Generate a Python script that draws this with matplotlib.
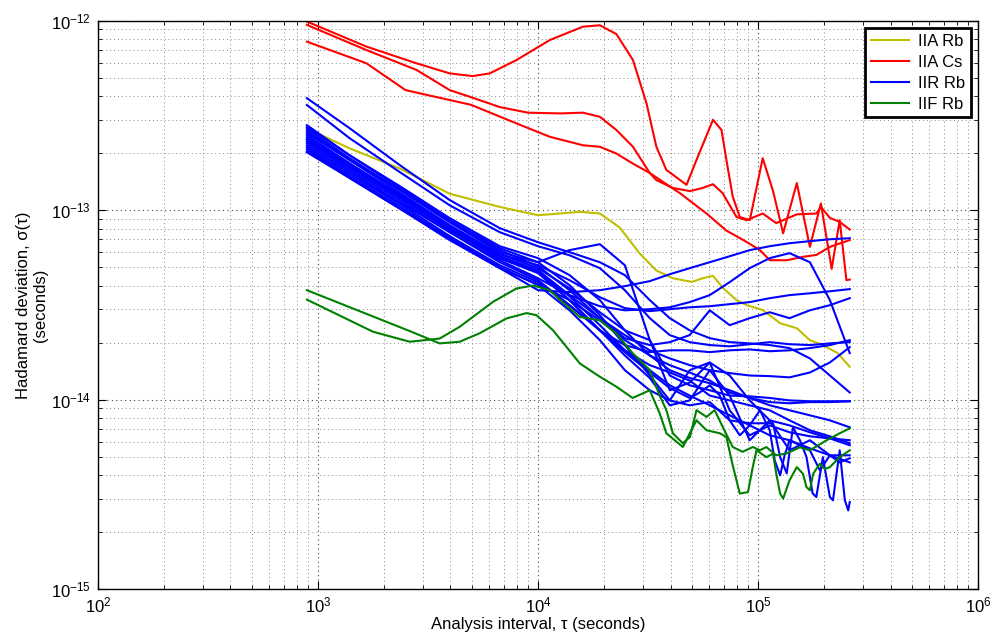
import numpy as np
import matplotlib
matplotlib.use('Agg')
import matplotlib.pyplot as plt
from matplotlib.ticker import NullFormatter

plt.rcParams['font.family'] = ['Liberation Sans', 'DejaVu Sans']
plt.rcParams['mathtext.default'] = 'regular'

#%% DATA (tau in seconds, sigma in units of 1e-14 s)
unit = 1e-14

x_ticks = [1e2, 1e3, 1e4, 1e5, 1e6]
y_ticks = [1e-15, 1e-14, 1e-13, 1e-12]

# IIA Rb (yellow)
tau_iia_rb = [890, 1390, 2350, 3970, 6700, 1.0e4, 1.55e4, 1.91e4, 2.35e4, 2.9e4, 3.45e4,
              4.1e4, 5.0e4, 5.6e4, 6.24e4, 6.9e4, 7.98e4, 8.9e4, 1.05e5, 1.26e5, 1.5e5,
              1.72e5, 1.95e5, 2.3e5, 2.61e5]
sig_iia_rb = [27.0, 21.2, 16.6, 12.2, 10.4, 9.4, 9.8, 9.6, 8.1, 5.9, 4.8,
              4.37, 4.18, 4.37, 4.5, 3.9, 3.35, 3.15, 2.97, 2.53, 2.38,
              2.06, 1.95, 1.76, 1.49]

# IIA Cs (red)
tau_cs1 = [890, 1660, 2800, 3970, 5050, 6030, 7980, 1.13e4, 1.6e4, 1.91e4, 2.27e4, 2.7e4,
           3.11e4, 3.45e4, 3.83e4, 4.73e4, 5.25e4, 6.24e4, 6.82e4, 7.18e4, 7.67e4, 8.26e4,
           9.17e4, 1.05e5, 1.17e5, 1.3e5, 1.5e5, 1.72e5, 1.93e5, 2.16e5, 2.35e5, 2.52e5, 2.61e5]
sig_cs1 = [99, 73, 59.6, 52.7, 51, 52.7, 62, 79, 93, 94.6, 85, 62,
           36.7, 21.6, 16.3, 13.6, 18.4, 30, 26.5, 18.4, 11.8, 9.2,
           8.85, 18.8, 12.6, 7.55, 13.9, 6.4, 10.85, 4.9, 8.85, 4.27, 4.3]
tau_cs2 = [890, 1660, 2800, 3970, 4950, 6700, 9000, 1.27e4, 1.6e4, 1.91e4, 2.27e4, 2.7e4,
           3.22e4, 3.45e4, 4.1e4, 4.9e4, 5.6e4, 6.24e4, 6.9e4, 7.98e4, 8.86e4, 1.05e5,
           1.21e5, 1.5e5, 1.84e5, 1.93e5, 2.12e5, 2.35e5, 2.61e5]
sig_cs2 = [95, 70, 55, 43, 39.5, 35, 32.7, 32.4, 32.7, 31.1, 26.5, 21.6,
           15.7, 14.4, 13.1, 12.6, 13.1, 13.7, 12.3, 9.2, 8.85, 9.6,
           8.54, 9.5, 9.6, 10.4, 9.1, 8.67, 7.9]
tau_cs3 = [890, 1660, 2500, 4950, 7980, 1.13e4, 1.6e4, 1.91e4, 2.27e4, 2.7e4, 3.22e4,
           4.41e4, 5.83e4, 7.18e4, 8.86e4, 1.02e5, 1.13e5, 1.35e5, 1.6e5, 1.84e5, 2.12e5, 2.61e5]
sig_cs3 = [77.5, 59.6, 43, 36, 28.7, 24.4, 22, 21.6, 19.9, 17.6, 15.7,
           12.3, 9.6, 7.8, 6.8, 6.15, 5.44, 5.44, 5.67, 5.8, 6.4, 6.95]

# IIF Rb (green)
tau_iif1 = [890, 2610, 3570, 4400, 5430, 7180, 8850, 9840, 1.17e4, 1.55e4, 1.91e4, 2.27e4,
            2.69e4, 3.22e4, 3.57e4, 3.83e4, 4.55e4, 5.25e4, 5.83e4, 6.7e4, 7.18e4, 7.67e4,
            8.26e4, 9.0e4, 9.46e4, 9.84e4, 1.09e5, 1.17e5, 1.21e5, 1.26e5, 1.3e5, 1.39e5,
            1.5e5, 1.6e5, 1.66e5, 1.72e5, 1.78e5, 1.91e5, 2.01e5, 2.12e5, 2.35e5, 2.61e5]
sig_iif1 = [3.78, 2.3, 1.98, 2.02, 2.24, 2.68, 2.86, 2.79, 2.32, 1.55, 1.32, 1.17,
            1.02, 1.12, 0.847, 0.664, 0.562, 0.778, 0.689, 0.664, 0.634, 0.45,
            0.319, 0.325, 0.44, 0.54, 0.497, 0.518, 0.406, 0.319, 0.30, 0.375,
            0.44, 0.406, 0.345, 0.332, 0.406, 0.459, 0.43, 0.44, 0.497, 0.54]
tau_iif2 = [890, 1780, 2610, 3570, 4400, 6240, 7980, 9500, 1.13e4, 1.26e4, 1.55e4, 1.91e4,
            2.27e4, 2.69e4, 3.22e4, 3.57e4, 3.83e4, 4.1e4, 4.55e4, 4.9e4, 5.25e4, 5.83e4,
            6.35e4, 6.91e4, 7.67e4, 8.5e4, 9.46e4, 1.02e5, 1.09e5, 1.21e5, 1.35e5, 1.55e5,
            1.72e5, 2.05e5, 2.35e5, 2.61e5]
sig_iif2 = [3.37, 2.28, 2.02, 2.1, 2.42, 3.28, 3.86, 4.0, 3.78, 3.35, 2.73, 2.62,
            2.23, 1.76, 1.43, 1.05, 0.88, 0.664, 0.588, 0.634, 0.88, 0.81,
            0.88, 0.717, 0.562, 0.53, 0.562, 0.54, 0.562, 0.508, 0.52, 0.56,
            0.54, 0.61, 0.664, 0.705]

# IIR Rb (blue) - most share one tau grid
tau_iir = [890, 1390, 2350, 3970, 6700, 1.0e4, 1.39e4, 1.91e4, 2.48e4, 3.22e4, 3.97e4,
           4.89e4, 6.03e4, 7.43e4, 9.16e4, 1.13e5, 1.39e5, 1.72e5, 2.12e5, 2.61e5]
sig_iir = [
    [39.0, 27.1, 17.3, 11.3, 8.03, 6.77, 6.0, 5.31, 4.54, 3.35, 2.69, 2.32, 2.11, 2.01, 1.98, 1.94, 1.87, 1.65, 1.34, 1.09],
    [35.9, 24.0, 15.9, 10.6, 7.65, 6.45, 5.78, 4.94, 3.78, 2.69, 2.19, 2.01, 1.94, 1.91, 1.96, 2.01, 1.96, 1.94, 1.98, 2.01],
    [25.5, 18.4, 12.8, 8.64, 6.0, 5.31, 6.15, 6.61, 5.12, 2.06, 1.34, 1.19, 1.12, 1.05, 1.04, 1.02, 0.99, 0.98, 0.98, 0.98],
    [20.2, 14.8, 10.2, 7.11, 4.94, 3.78, 3.69, 3.78, 3.97, 4.22, 4.59, 4.94, 5.31, 5.71, 6.15, 6.45, 6.69, 6.86, 7.02, 7.11],
    [22.0, 15.9, 11.0, 7.65, 5.44, 4.37, 3.56, 3.11, 2.96, 3.0, 3.07, 3.27, 3.56, 4.17, 4.94, 5.58, 5.93, 5.31, 3.35, 1.76],
    [24.3, 17.5, 12.1, 8.23, 5.86, 5.12, 4.27, 3.47, 3.04, 2.93, 3.0, 3.07, 3.11, 3.19, 3.27, 3.43, 3.56, 3.64, 3.73, 3.83],
    [26.8, 18.8, 12.8, 8.64, 6.15, 5.06, 3.78, 2.69, 2.11, 1.94, 2.01, 2.19, 2.96, 2.47, 2.69, 2.89, 2.69, 2.96, 3.15, 3.43],
    [23.7, 17.1, 11.9, 8.03, 5.71, 4.82, 3.56, 2.69, 2.19, 1.82, 1.65, 1.52, 1.43, 1.38, 1.34, 1.33, 1.31, 1.39, 1.57, 1.89],
    [23.1, 16.7, 11.6, 7.84, 5.58, 4.70, 3.35, 2.32, 1.94, 1.78, 1.82, 1.82, 1.78, 1.82, 1.84, 1.80, 1.82, 1.87, 1.94, 2.06],
    [27.4, 19.5, 13.4, 9.07, 6.45, 5.58, 4.54, 3.35, 2.32, 1.71, 1.43, 1.30, 1.22, 1.12, 1.02, 0.933, 0.878, 0.826, 0.777, 0.714],
    [26.1, 18.4, 12.4, 8.33, 5.86, 4.94, 3.87, 2.89, 2.32, 2.06, 1.12, 1.23, 1.57, 0.878, 0.648, 0.731, 0.672, 0.64, 0.624, 0.61],
    [24.9, 17.7, 12.1, 8.23, 5.71, 4.70, 3.51, 2.47, 1.82, 1.52, 1.39, 1.26, 1.05, 0.99, 0.933, 0.878, 0.777, 0.689, 0.64, 0.588],
    [22.6, 16.3, 11.3, 7.65, 5.31, 4.27, 3.15, 2.32, 1.71, 1.30, 0.933, 0.99, 1.43, 1.05, 0.61, 0.777, 0.54, 0.61, 0.508, 0.508],
    [21.5, 15.5, 10.8, 7.29, 5.12, 4.17, 3.15, 2.32, 1.82, 1.43, 1.19, 1.05, 0.933, 0.826, 0.731, 0.648, 0.61, 0.553, 0.508, 0.466],
    [20.5, 14.8, 10.2, 6.94, 4.94, 4.06, 3.35, 2.62, 2.06, 1.71, 1.52, 1.39, 1.26, 1.09, 1.02, 0.97, 0.956, 0.97, 0.97, 0.98],
    [28.1, 19.5, 13.1, 8.85, 6.30, 5.31, 4.02, 2.79, 1.94, 1.34, 0.99, 1.43, 1.57, 1.34, 0.99, 0.777, 0.731, 0.672, 0.624, 0.574],
]
# two oscillating IIR Rb curves with their own tau points
tau_iir_a = [890, 1390, 2350, 3970, 6700, 1.0e4, 1.39e4, 1.91e4, 2.48e4, 3.22e4, 3.97e4,
             4.89e4, 6.03e4, 7.43e4, 9.16e4, 1.17e5, 1.26e5, 1.35e5, 1.44e5, 1.55e5, 1.66e5,
             1.77e5, 1.84e5, 1.97e5, 2.12e5, 2.19e5, 2.35e5, 2.48e5, 2.57e5, 2.61e5]
sig_iir_a = [21.0, 15.1, 10.5, 7.11, 5.0, 4.02, 2.96, 2.06, 1.43, 1.12, 0.99,
             0.933, 0.97, 0.777, 0.75, 0.75, 0.497, 0.408, 0.714, 0.61, 0.497,
             0.32, 0.306, 0.497, 0.306, 0.294, 0.54, 0.294, 0.26, 0.288]
tau_iir_b = [890, 1390, 2350, 3970, 6700, 1.0e4, 1.39e4, 1.91e4, 2.48e4, 3.22e4, 3.97e4,
             4.89e4, 5.43e4, 6.03e4, 6.7e4, 7.43e4, 8.26e4, 9.16e4, 1.02e5, 1.13e5, 1.19e5,
             1.26e5, 1.32e5, 1.39e5, 1.55e5, 1.72e5, 1.91e5, 2.12e5, 2.35e5, 2.61e5]
sig_iir_b = [23.7, 17.1, 11.7, 7.94, 5.58, 4.65, 3.35, 2.32, 1.78, 1.39, 1.15,
             1.02, 1.09, 1.19, 1.05, 0.777, 0.648, 0.731, 0.878, 0.689, 0.478,
             0.398, 0.508, 0.61, 0.574, 0.54, 0.423, 0.508, 0.466, 0.49]

c_yel = '#BFBF00'
c_red = '#FF0000'
c_blu = '#0000FF'
c_grn = '#008000'
lw = 1.5

#%% PLOT
fig = plt.figure(figsize=(9.95, 6.39), dpi=100)
ax = fig.add_axes([0.0985, 0.0782, 0.8845, 0.8894])

ax.plot(tau_iia_rb, np.array(sig_iia_rb) * unit, color=c_yel, lw=lw, label='IIA Rb')
ax.plot(tau_cs1, np.array(sig_cs1) * unit, color=c_red, lw=lw, label='IIA Cs')
ax.plot(tau_cs2, np.array(sig_cs2) * unit, color=c_red, lw=lw)
ax.plot(tau_cs3, np.array(sig_cs3) * unit, color=c_red, lw=lw)

for i, s in enumerate(sig_iir):
    ax.plot(tau_iir, np.array(s) * unit, color=c_blu, lw=lw, label='IIR Rb' if i == 0 else None)
ax.plot(tau_iir_a, np.array(sig_iir_a) * unit, color=c_blu, lw=lw)
ax.plot(tau_iir_b, np.array(sig_iir_b) * unit, color=c_blu, lw=lw)

ax.plot(tau_iif1, np.array(sig_iif1) * unit, color=c_grn, lw=lw, label='IIF Rb')
ax.plot(tau_iif2, np.array(sig_iif2) * unit, color=c_grn, lw=lw)

ax.set_xscale('log')
ax.set_yscale('log')
ax.set_xticks(x_ticks)
ax.set_yticks(y_ticks)
ax.set_xlim(1e2, 1e6)
ax.set_ylim(1e-15, 1e-12)
ax.xaxis.set_minor_formatter(NullFormatter())
ax.yaxis.set_minor_formatter(NullFormatter())

ax.grid(True, which='major', linestyle=(0, (1, 3)), color='#444444', linewidth=0.8)
ax.grid(True, which='minor', linestyle=(0, (1, 3)), color='#8a8a8a', linewidth=0.7)
ax.set_axisbelow(True)
ax.tick_params(which='both', direction='in', top=True, right=True, labelsize=12)
ax.tick_params(which='major', length=6, pad=5)
ax.tick_params(which='minor', length=3)
for sp in ax.spines.values():
    sp.set_linewidth(1.0)

ax.set_xlabel('Analysis interval, τ (seconds)', fontsize=12, labelpad=1)
ax.set_ylabel('Hadamard deviation, σ(τ)\n(seconds)', fontsize=12, labelpad=2)

leg = ax.legend(loc='upper right', fontsize=12, handlelength=2.3, borderpad=0.35,
                labelspacing=0.35, handletextpad=0.5, fancybox=False, framealpha=1,
                borderaxespad=0.45)
leg.get_frame().set_edgecolor('black')
leg.get_frame().set_linewidth(2.0)

fig.savefig('out.png', dpi=100)
